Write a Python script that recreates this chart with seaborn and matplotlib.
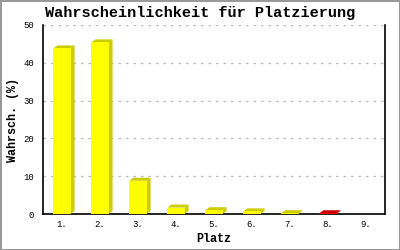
import matplotlib
matplotlib.use("Agg")
import matplotlib.pyplot as plt
import seaborn as sns
import pandas as pd
from matplotlib.patches import Polygon

places = ["1.", "2.", "3.", "4.", "5.", "6.", "7.", "8.", "9."]
values = [43.8, 45.4, 8.8, 1.7, 1.0, 0.7, 0.2, 0.2, 0.0]
front_colors = ["#ffff00"] * 7 + ["#ff0000", "#ffff00"]
side_colors = ["#cccc00"] * 7 + ["#cc0000", "#cccc00"]

title = "Wahrscheinlichkeit für Platzierung"
xlabel = "Platz"
ylabel = "Wahrsch. (%)"
yticks = [0, 10, 20, 30, 40, 50]

sns.set_style("white")
plt.rcParams["font.family"] = ["Liberation Mono", "DejaVu Sans Mono"]
plt.rcParams.update({"text.color": "black", "axes.labelcolor": "black",
                     "xtick.color": "black", "ytick.color": "black"})

fig = plt.figure(figsize=(4, 2.5), dpi=100)
fig.patch.set_edgecolor("#999999")
fig.patch.set_linewidth(2)
ax = fig.add_axes([43 / 400, 36 / 250, 342 / 400, 189 / 250])

df = pd.DataFrame({"place": places, "value": values})
sns.barplot(data=df, x="place", y="value", hue="place", palette=front_colors,
            width=0.45, legend=False, ax=ax, zorder=3, linewidth=0, saturation=1)

ax.set_ylim(0, 50)
ax.set_xlim(-0.5, len(places) - 0.5)
ax.set_yticks(yticks)
ax.yaxis.grid(True, linestyle=(0, (2, 4)), color="#bbbbbb", linewidth=0.9, zorder=0)
ax.set_axisbelow(True)

for s in ["left", "bottom", "right"]:
    ax.spines[s].set_visible(True)
    ax.spines[s].set_color("black")
    ax.spines[s].set_linewidth(1.2)
ax.spines["top"].set_visible(False)

ax.tick_params(axis="y", direction="inout", length=7, width=1, labelsize=6.5, pad=3)
ax.tick_params(axis="x", length=0, labelsize=6.5, pad=4)

fig.suptitle(title, x=0.5, y=1 - 13 / 250, fontsize=11, fontweight="bold", va="center")
ax.set_xlabel(xlabel, fontsize=8.5, fontweight="bold", labelpad=3)
ax.set_ylabel(ylabel, fontsize=8.5, fontweight="bold", labelpad=3)

# 3D depth faces derived from the bar patches
fig.canvas.draw()
dx, dy = 4, 3
for patch, v, sc in zip(ax.patches, values, side_colors):
    if v <= 0:
        continue
    x0, y0 = patch.get_x(), patch.get_y()
    x1, y1 = x0 + patch.get_width(), y0 + patch.get_height()
    (px0, py0), (px1, py1) = ax.transData.transform([(x0, y0), (x1, y1)])
    top = [(px0, py1), (px0 + dx, py1 + dy), (px1 + dx, py1 + dy), (px1, py1)]
    side = [(px1, py0), (px1, py1), (px1 + dx, py1 + dy), (px1 + dx, py0 + dy)]
    for pts in (top, side):
        poly = Polygon(pts, closed=True, transform=None, facecolor=sc,
                       edgecolor="none", zorder=2.5)
        ax.add_artist(poly)
        poly.set_clip_on(False)

fig.savefig("out.png", dpi=100)
